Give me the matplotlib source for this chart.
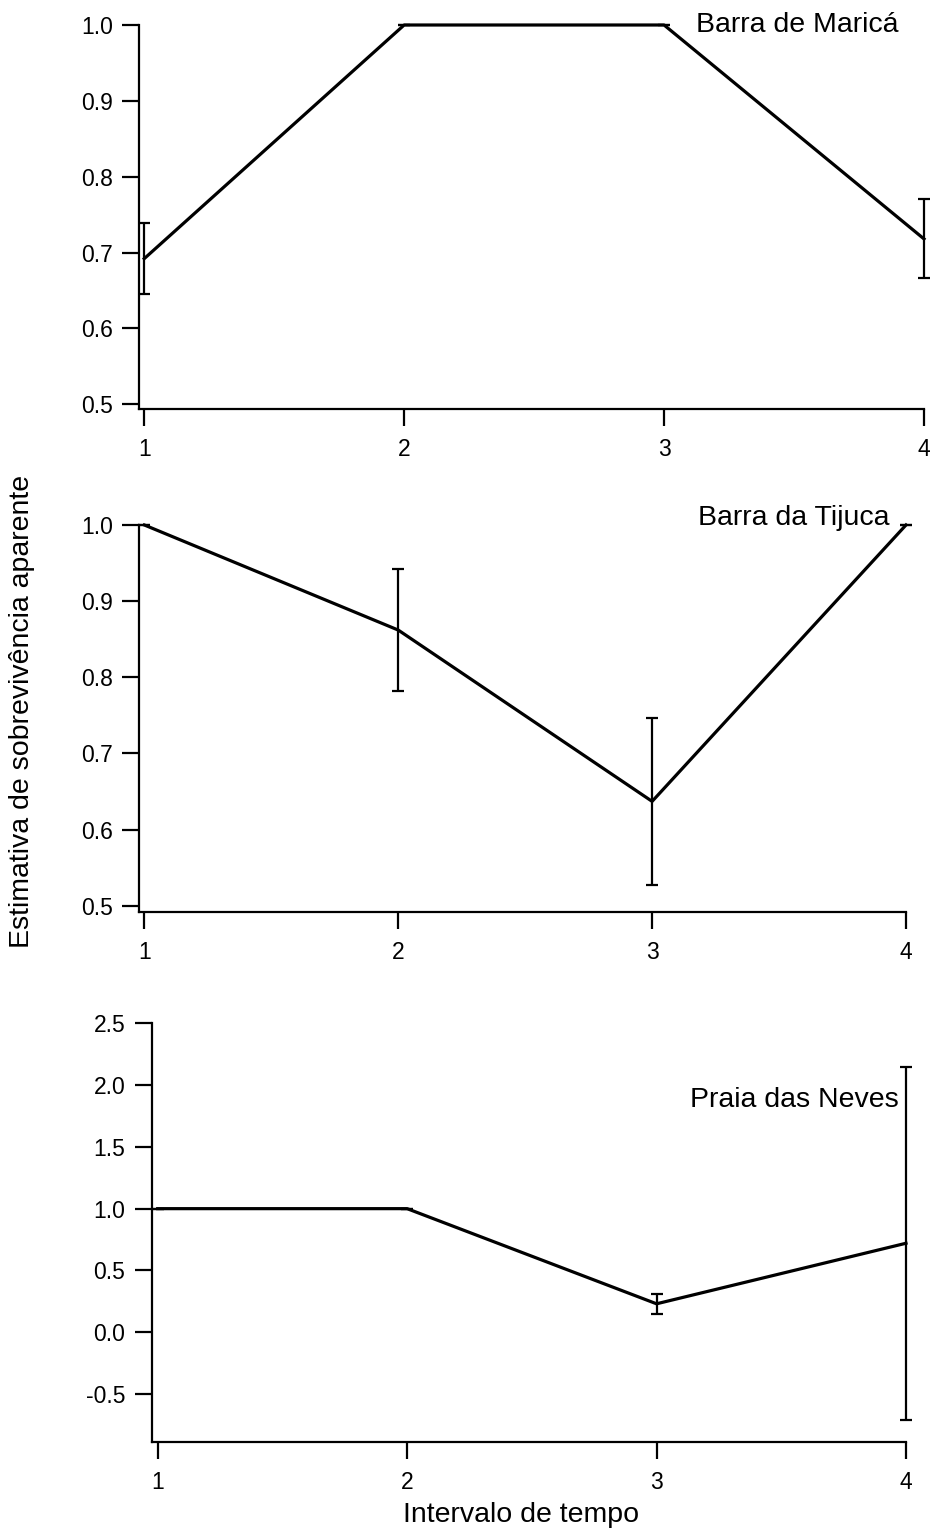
import numpy as np
import matplotlib
matplotlib.use('Agg')
import matplotlib.pyplot as plt

plt.rcParams['font.family'] = ['Liberation Sans', 'DejaVu Sans']
plt.rcParams['axes.unicode_minus'] = False

# intervalos de tempo
intervalos = [1, 2, 3, 4]

# Barra de Maricá
marica = [0.692, 1.0, 1.0, 0.718]
marica_err = [0.047, 0.0, 0.0, 0.052]

# Barra da Tijuca
tijuca = [1.0, 0.862, 0.637, 1.0]
tijuca_err = [0.0, 0.08, 0.11, 0.0]

# Praia das Neves
neves = [1.0, 1.0, 0.23, 0.72]
neves_err = [0.0, 0.0, 0.08, 1.43]

W, H = 932, 1535
fig = plt.figure(figsize=(W / 100, H / 100), dpi=100)


def painel(px_left, px_right, px_top, px_bottom):
    return fig.add_axes([px_left / W, 1 - px_bottom / H,
                         (px_right - px_left) / W, (px_bottom - px_top) / H])


def estilo(ax, yticks, fmt):
    for s in ['top', 'right']:
        ax.spines[s].set_visible(False)
    for s in ['left', 'bottom']:
        ax.spines[s].set_linewidth(1.6)
    ax.set_xticks(intervalos)
    ax.set_xticklabels([str(i) for i in intervalos])
    ax.set_yticks(yticks)
    ax.set_yticklabels([fmt % v for v in yticks])
    ax.tick_params(axis='both', direction='out', length=12, width=1.6,
                   labelsize=16.5, pad=7)
    ax.tick_params(axis='x', pad=9)


def serie(ax, y, err):
    ax.errorbar(intervalos, y, yerr=err, color='black', linewidth=2.3,
                elinewidth=1.6, capsize=4, capthick=1.6, clip_on=False)


# painel 1
ax1 = painel(139.3, 924, 25, 409.3)
serie(ax1, marica, marica_err)
ax1.set_xlim(0.981, 4)
ax1.set_ylim(0.4934, 1.0)
estilo(ax1, np.arange(0.5, 1.01, 0.1), '%.1f')
fig.text(899 / W, 1 - 25 / H, 'Barra de Maricá', ha='right', va='center',
         fontsize=20.5)

# painel 2
ax2 = painel(139.3, 906, 525, 911.7)
serie(ax2, tijuca, tijuca_err)
ax2.set_xlim(0.980, 4)
ax2.set_ylim(0.4921, 1.0)
estilo(ax2, np.arange(0.5, 1.01, 0.1), '%.1f')
fig.text(890 / W, 1 - 518 / H, 'Barra da Tijuca', ha='right', va='center',
         fontsize=20.5)

# painel 3
ax3 = painel(151.7, 906, 1023.3, 1441.7)
serie(ax3, neves, neves_err)
ax3.set_xlim(0.976, 4)
ax3.set_ylim(-0.886, 2.5)
estilo(ax3, np.arange(-0.5, 2.51, 0.5), '%.1f')
fig.text(899 / W, 1 - 1100 / H, 'Praia das Neves', ha='right', va='center',
         fontsize=20.5)

fig.text(521 / W, 1 - 1515 / H, 'Intervalo de tempo', ha='center',
         va='center', fontsize=20.5)
fig.text(22 / W, 1 - 711 / H, 'Estimativa de sobrevivência aparente',
         ha='center', va='center', rotation=90, fontsize=20.5)

fig.savefig('out.png', dpi=100)
